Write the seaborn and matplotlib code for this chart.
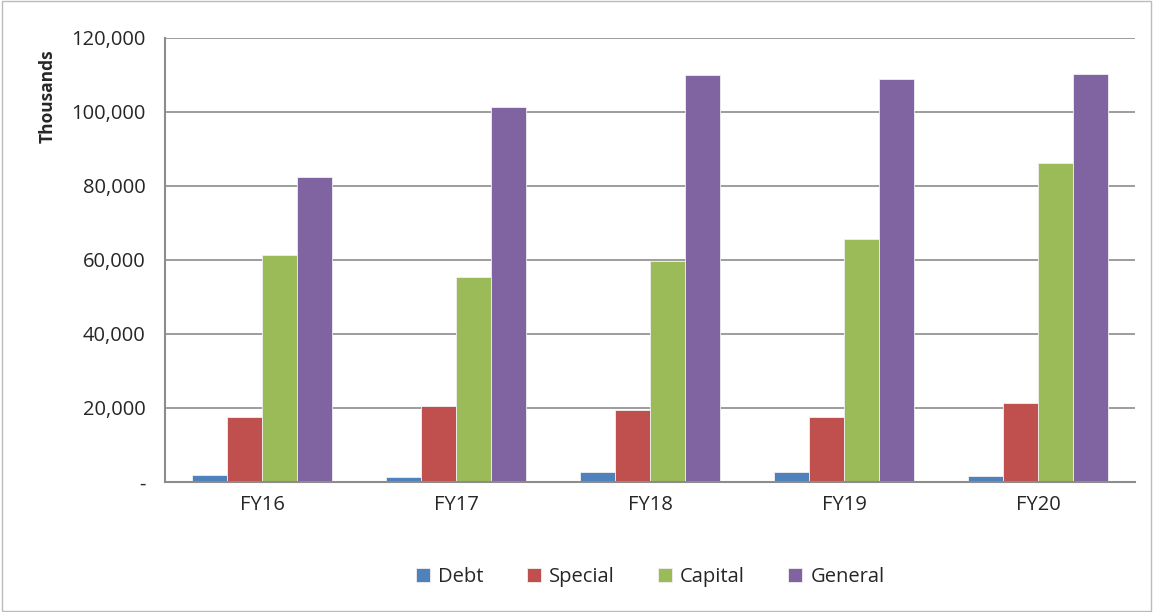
import matplotlib
matplotlib.use("Agg")
import matplotlib.pyplot as plt
import seaborn as sns
import pandas as pd
from matplotlib.ticker import FuncFormatter, FixedLocator
from matplotlib.patches import Rectangle

years = ["FY16", "FY17", "FY18", "FY19", "FY20"]
series = ["Debt", "Special", "Capital", "General"]
debt = [1800, 1300, 2600, 2600, 1600]
special = [17700, 20600, 19500, 17700, 21300]
capital = [61400, 55400, 59700, 65700, 86300]
general = [82500, 101300, 110000, 108900, 110200]
colors = ["#4F81BD", "#C0504D", "#9BBB59", "#8064A2"]

rows = []
for name, vals in zip(series, [debt, special, capital, general]):
    for y, v in zip(years, vals):
        rows.append({"Year": y, "Fund": name, "Value": v})
df = pd.DataFrame(rows)

sns.set_style("white")
plt.rcParams['font.family'] = ['Open Sans', 'DejaVu Sans']

fig = plt.figure(figsize=(11.53, 6.12), dpi=100)
ax = fig.add_axes([165/1153, 1 - 482/612, (1135-165)/1153, (482-38)/612])

sns.barplot(data=df, x="Year", y="Value", hue="Fund", hue_order=series,
            palette=colors, width=0.72, ax=ax, edgecolor="#f0f0f0",
            linewidth=0.6, saturation=1, legend=True)

ax.set_ylim(0, 120000)
ax.set_xlim(-0.5, 4.5)
ax.set_yticks(range(0, 120001, 20000))
ax.yaxis.set_major_formatter(FuncFormatter(lambda v, p: "-" if v == 0 else f"{int(v):,}"))
ax.grid(axis="y", color="#8c8c8c", linewidth=1.2)
ax.set_axisbelow(True)
for s in ["top", "right"]:
    ax.spines[s].set_visible(False)
for s in ["left", "bottom"]:
    ax.spines[s].set_color("#8c8c8c")
    ax.spines[s].set_linewidth(1.5)

ax.tick_params(axis="y", which="major", direction="out", length=6, color="#8c8c8c",
               width=1.2, labelsize=14.5, pad=8)
ax.tick_params(axis="x", which="major", length=0, labelsize=14.5, pad=9)
ax.xaxis.set_minor_locator(FixedLocator([-0.5, 0.5, 1.5, 2.5, 3.5, 4.5]))
ax.tick_params(axis="x", which="minor", direction="out", length=7, color="#8c8c8c", width=1.2)
ax.set_xlabel("")
ax.set_ylabel("Thousands", fontsize=12.5, fontweight="bold")
ax.yaxis.set_label_coords(-0.112, 0.87)

handles, labels = ax.get_legend_handles_labels()
ax.legend(handles, labels, loc="upper center", bbox_to_anchor=(0.5, -0.15), ncol=4,
          frameon=False, fontsize=14.5, handlelength=0.7, handleheight=0.7,
          columnspacing=2.15, handletextpad=0.4)

fig.patches.append(Rectangle((0.002, 0.002), 0.996, 0.996, transform=fig.transFigure,
                             fill=False, edgecolor="#bbbbbb", linewidth=1))

fig.savefig("out.png", dpi=100)
